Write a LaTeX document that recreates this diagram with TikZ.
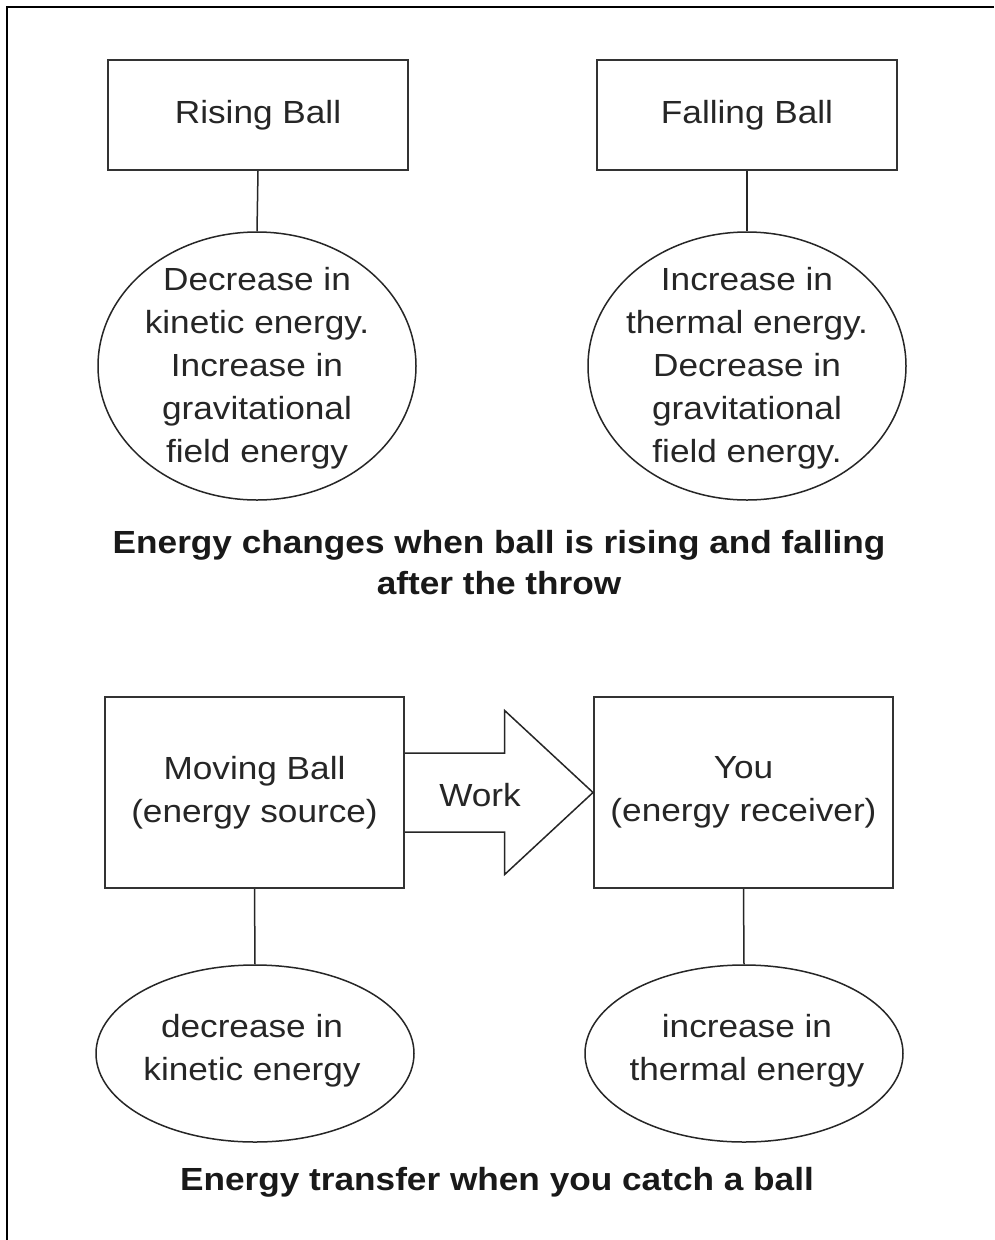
\documentclass[tikz,border=0pt]{standalone}
\usepackage{fontspec}
\setmainfont{Liberation Sans}[FakeStretch=1.1]
\usetikzlibrary{shapes.geometric,calc}
\begin{document}
\begin{tikzpicture}[x=1pt,y=-1pt,
  txt/.style={font=\fontsize{32}{43}\selectfont, align=center, text=black!85},
  stagebox/.style={txt, draw=black!80, line width=2pt, inner sep=0pt},
  effect/.style={draw=black!85, line width=1.5pt, ellipse, inner sep=0pt},
  link/.style={draw=black!85, line width=1.5pt},
  caption/.style={font=\fontsize{32}{41}\selectfont\bfseries, align=center, text=black!90}]
\useasboundingbox (0,0) rectangle (994,1240);
\fill[white] (0,0) rectangle (994,1240);
% open frame along top and left
\draw[line width=2pt] (994,6.5) -- (7,6.5) -- (7,1240);

% --- ball in flight ---
\node[stagebox, minimum width=300pt, minimum height=110pt] (rise) at (258,115) {Rising Ball};
\node[stagebox, minimum width=300pt, minimum height=110pt] (fall) at (747,115) {Falling Ball};
\node[effect, minimum width=318pt, minimum height=268pt] (riseE) at (257,366) {};
\node[effect, minimum width=318pt, minimum height=268pt] (fallE) at (747,366) {};
\node[txt] (riseT) at ($(riseE.center)+(0,2)$)
  {Decrease in\\kinetic energy.\\Increase in\\gravitational\\field energy};
\node[txt] (fallT) at ($(fallE.center)+(0,2)$)
  {Increase in\\thermal energy.\\Decrease in\\gravitational\\field energy.};
\draw[link] (rise.south) -- (riseE.north);
\draw[link] (fall.south) -- (fallE.north);
\node[caption] (cap1) at (499,563) {Energy changes when ball is rising and falling\\after the throw};

% --- catching the ball ---
\node[stagebox, minimum width=299pt, minimum height=191pt] (src) at (254.5,792.5) {Moving Ball\\(energy source)};
\node[stagebox, minimum width=299pt, minimum height=191pt] (rcv) at (743.5,792.5) {You\\(energy receiver)};
\node[effect, minimum width=318pt, minimum height=177pt] (srcE) at (255,1053.5) {};
\node[effect, minimum width=318pt, minimum height=177pt] (rcvE) at (744,1053.5) {};
\node[txt] (srcT) at ($(srcE.center)+(-3,-3)$) {decrease in\\kinetic energy};
\node[txt] (rcvT) at ($(rcvE.center)+(3,-3)$) {increase in\\thermal energy};
\draw[link] (src.south) -- (srcE.north);
\draw[link] (rcv.south) -- (rcvE.north);

% block arrow for the work done
\coordinate (neck) at ($(src.east)!0.53!(rcv.west)$);
\draw[link, line join=miter]
  ($(src.east)+(0,-39.5)$) -- ($(neck |- src.east)+(0,-39.5)$) --
  ($(neck |- src.east)+(0,-82)$) -- (rcv.west) --
  ($(neck |- src.east)+(0,82)$) -- ($(neck |- src.east)+(0,39.5)$) --
  ($(src.east)+(0,39.5)$);
\node[txt] (work) at (480,795) {Work};

\node[caption] (cap2) at (497,1182) {Energy transfer when you catch a ball};
\end{tikzpicture}
\end{document}
